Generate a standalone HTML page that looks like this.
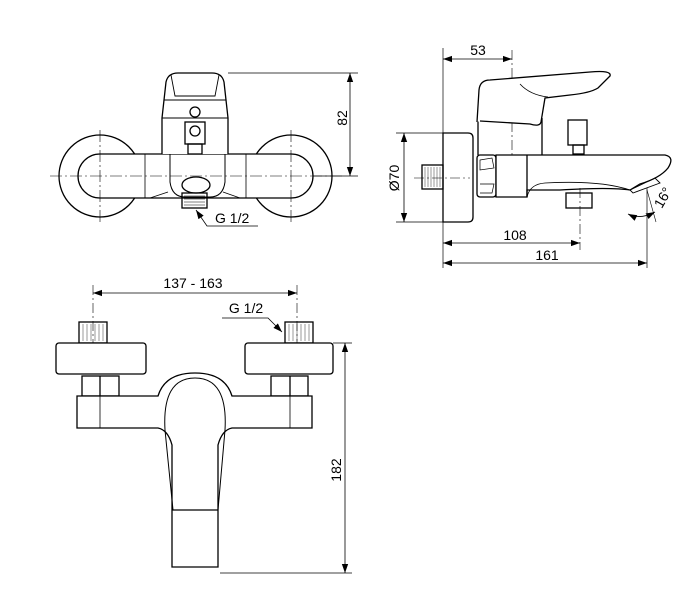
<!DOCTYPE html>
<html><head><meta charset="utf-8"><style>
html,body{margin:0;padding:0;background:#fff;}
svg{display:block;}
text{font-family:"Liberation Sans",Arial,sans-serif;font-size:14px;fill:#000;}
</style></head><body>
<svg width="683" height="606" viewBox="0 0 683 606" xmlns="http://www.w3.org/2000/svg">
<defs>
<marker id="a" viewBox="0 0 10 10" refX="10" refY="5" markerWidth="9" markerHeight="9" orient="auto-start-reverse" markerUnits="userSpaceOnUse"><path d="M0,1.5 L10,5 L0,8.5z" fill="#000"/></marker>
</defs>
<g fill="none" stroke="#000" stroke-width="1.3">
<!-- FRONT VIEW -->
<circle cx="100" cy="176" r="41"/>
<circle cx="291" cy="176" r="41"/>
<path d="M100,154 H291 A22,22 0 0 1 291,198 H100 A22,22 0 0 1 100,154z" fill="#fff"/>
<line x1="145" y1="154" x2="145" y2="198" stroke-width="0.8"/>
<line x1="246" y1="154" x2="246" y2="198" stroke-width="0.8"/>
<path d="M170,154 V182 Q172,197 185,197 H210 Q223,197 225,182 V154" stroke-width="1"/>
<path d="M150,198 L168,192 M240,198 L223,192" stroke-width="0.8"/>
<ellipse cx="196" cy="185" rx="14" ry="8"/>
<rect x="182" y="193" width="25" height="15"/>
<path d="M184,196 H205 M184,199 H205 M184,202 H205 M184,205 H205" stroke-width="0.5"/>
<path d="M162,154 V118 L166,82 Q168,73 178,73 H212 Q222,73 224,82 L228,118 V154" fill="#fff"/>
<path d="M171,75 L175,96 H215 L219,75" stroke-width="0.9"/>
<path d="M164,100 H226 M162,118 H228" stroke-width="1"/>
<circle cx="195" cy="112" r="5"/>
<rect x="185" y="122" width="20" height="22"/>
<circle cx="195" cy="131" r="5"/>
<rect x="188" y="144" width="14" height="10"/>
<!-- centerlines -->
<g stroke-width="0.6" stroke-dasharray="12,3,2,3">
<line x1="50" y1="176" x2="345" y2="176"/>
<line x1="100" y1="130" x2="100" y2="222"/>
<line x1="291" y1="130" x2="291" y2="222"/>
</g>
<!-- 82 dim -->
<line x1="228" y1="73" x2="358" y2="73" stroke-width="0.7"/>
<line x1="313" y1="176" x2="358" y2="176" stroke-width="0.7"/>
<line x1="350" y1="73" x2="350" y2="176" stroke-width="0.8" marker-start="url(#a)" marker-end="url(#a)"/>
<!-- G1/2 leader -->
<path d="M258,226 H207 L196,210" stroke-width="0.8" marker-end="url(#a)"/>

<!-- SIDE VIEW -->
<line x1="443" y1="48" x2="443" y2="268" stroke-width="0.7"/>
<line x1="443" y1="59" x2="512" y2="59" stroke-width="0.8" marker-start="url(#a)" marker-end="url(#a)"/>
<line x1="512" y1="50" x2="512" y2="190" stroke-width="0.6" stroke-dasharray="10,3,2,3"/>
<path d="M443,133 H468 Q473,133 473,138 V217 Q473,222 468,222 H443z" fill="#fff"/>
<line x1="396" y1="133" x2="443" y2="133" stroke-width="0.7"/>
<line x1="396" y1="222" x2="443" y2="222" stroke-width="0.7"/>
<line x1="404" y1="133" x2="404" y2="222" stroke-width="0.8" marker-start="url(#a)" marker-end="url(#a)"/>
<rect x="422" y="165" width="21" height="24"/>
<path d="M425,167 V187 M428,167 V187 M431,167 V187 M434,167 V187 M437,167 V187 M440,167 V187" stroke-width="0.4"/>
<line x1="414" y1="178" x2="470" y2="178" stroke-width="0.6" stroke-dasharray="10,3,2,3"/>
<path d="M478,118 V155 M542,118 V155" />
<path d="M477,122 L479,90 Q480,80 490,80 L590,72 Q612,70 610,76 L598,88 Q590,93 570,95 L545,98 L541,122 Q540,127 530,124 L480,121" fill="#fff"/>
<path d="M520,84 Q530,95 548,97" stroke-width="0.8"/>
<rect x="477" y="155" width="19" height="42" rx="3"/>
<path d="M480,160 L492,158 L494,168 L480,170z M480,184 L494,184 L492,193 L480,193" stroke-width="0.7"/>
<path d="M496,155 H665 Q675,157 668,168 Q660,178 640,184 L630,190 Q610,187 560,190 H527 V197 H496z" fill="#fff"/>
<path d="M527,155 V197" />
<path d="M527,197 Q530,184 545,183 Q600,180 630,190" stroke-width="0.8"/>
<path d="M630,190 L655,178 L660,183 L633,193z" stroke-width="0.9"/>
<rect x="568" y="120" width="19" height="25"/>
<rect x="573" y="145" width="11" height="9"/>
<rect x="566" y="193" width="26" height="15"/>
<line x1="580" y1="188" x2="580" y2="250" stroke-width="0.6" stroke-dasharray="10,3,2,3"/>
<line x1="647" y1="188" x2="647" y2="268" stroke-width="0.7"/>
<line x1="647" y1="190" x2="656" y2="222" stroke-width="0.6"/>
<path d="M628,214 Q640,220 655,212" stroke-width="0.8" marker-start="url(#a)" marker-end="url(#a)"/>
<line x1="443" y1="243" x2="580" y2="243" stroke-width="0.8" marker-start="url(#a)" marker-end="url(#a)"/>
<line x1="443" y1="263" x2="647" y2="263" stroke-width="0.8" marker-start="url(#a)" marker-end="url(#a)"/>

<!-- BOTTOM VIEW -->
<line x1="93" y1="293" x2="297" y2="293" stroke-width="0.8" marker-start="url(#a)" marker-end="url(#a)"/>
<g stroke-width="0.6" stroke-dasharray="10,3,2,3">
<line x1="93" y1="285" x2="93" y2="360"/>
<line x1="297" y1="285" x2="297" y2="360"/>
</g>
<rect x="79" y="322" width="28" height="21"/>
<rect x="285" y="322" width="28" height="21"/>
<path d="M83,324 V341 M87,324 V341 M91,324 V341 M95,324 V341 M99,324 V341 M103,324 V341 M289,324 V341 M293,324 V341 M297,324 V341 M301,324 V341 M305,324 V341 M309,324 V341" stroke-width="0.4"/>
<rect x="56" y="343" width="90" height="31" rx="3" fill="#fff"/>
<rect x="245" y="343" width="88" height="31" rx="3" fill="#fff"/>
<rect x="82" y="376" width="37" height="20"/><line x1="100" y1="376" x2="100" y2="396"/>
<rect x="271" y="376" width="37" height="20"/><line x1="290" y1="376" x2="290" y2="396"/>
<path d="M77,396 H158 Q165,373 195,373 Q225,373 232,396 H312 V428 H232 Q222,430 218,445 V567 H172 V445 Q168,430 158,428 H77z" fill="#fff"/>
<line x1="100" y1="396" x2="100" y2="428" stroke-width="0.8"/>
<line x1="290" y1="396" x2="290" y2="428" stroke-width="0.8"/>
<path d="M165,430 Q162,378 195,378 Q228,378 225,430 L218,510 H173z" stroke-width="1"/>
<line x1="172" y1="510" x2="218" y2="510"/>
<line x1="220" y1="573" x2="352" y2="573" stroke-width="0.7"/>
<line x1="333" y1="343" x2="352" y2="343" stroke-width="0.7"/>
<line x1="345" y1="343" x2="345" y2="573" stroke-width="0.8" marker-start="url(#a)" marker-end="url(#a)"/>
<path d="M222,318 H268 L282,332" stroke-width="0.8" marker-end="url(#a)"/>
</g>
<text x="215" y="223">G 1/2</text>
<text x="347" y="118" transform="rotate(-90 347 118)" text-anchor="middle">82</text>
<text x="478" y="55" text-anchor="middle">53</text>
<text x="399" y="178" transform="rotate(-90 399 178)" text-anchor="middle">Ø70</text>
<text x="515" y="240" text-anchor="middle">108</text>
<text x="547" y="260" text-anchor="middle">161</text>
<text x="667" y="200" transform="rotate(-60 667 200)" text-anchor="middle">16°</text>
<text x="193" y="288" text-anchor="middle">137 - 163</text>
<text x="246" y="313" text-anchor="middle">G 1/2</text>
<text x="341" y="470" transform="rotate(-90 341 470)" text-anchor="middle">182</text>
</svg>
</body></html>
